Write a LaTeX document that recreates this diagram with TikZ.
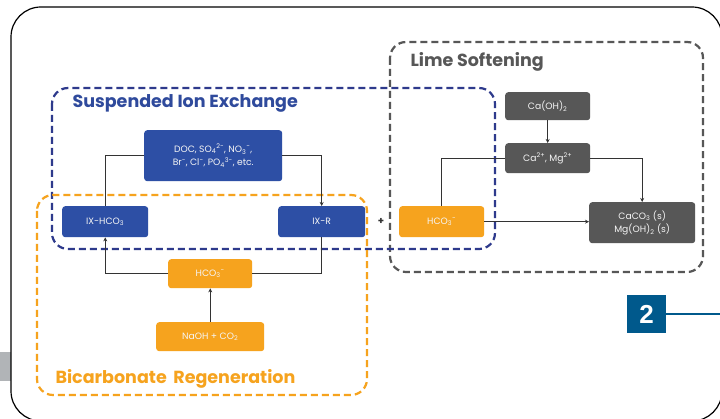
\documentclass[tikz,border=0pt]{standalone}
\usepackage{fontspec}
\setmainfont{Poppins}
\newfontfamily\numfont{Liberation Sans}
\usetikzlibrary{arrows.meta}
\definecolor{ixblue}{HTML}{2D4FA5}
\definecolor{ixdash}{HTML}{2E3A8C}
\definecolor{ixtitle}{HTML}{2F4A9C}
\definecolor{orng}{HTML}{F6A31E}
\definecolor{lgray}{HTML}{575757}
\definecolor{tabgray}{HTML}{B1B4B7}
\definecolor{frameblue}{HTML}{00598C}
\newcommand{\sbs}[1]{\textsubscript{#1}}
\newcommand{\sps}[1]{\textsuperscript{#1}}
\begin{document}
\begin{tikzpicture}[x=1pt,y=-1pt,
  box/.style={rounded corners=3pt, text=white!92!gray, align=center, inner sep=0pt,
    font=\fontsize{9.2}{13.5}\selectfont, anchor=north west},
  bluebox/.style={box, fill=ixblue},
  orbox/.style={box, fill=orng},
  grbox/.style={box, fill=lgray},
  conn/.style={draw=black!80, line width=0.8pt},
  arr/.style={conn, -{Stealth[length=4pt,width=4pt]}},
  dashbox/.style={line width=2.2pt, rounded corners=16pt, dash pattern=on 7pt off 4pt},
  title/.style={anchor=west, font=\bfseries\fontsize{17.5}{20}\selectfont}
]
\useasboundingbox (0,0) rectangle (720,419);
\fill[white] (0,0) rectangle (720,419);
% side tab and outer frame
\fill[tabgray] (0,352) rectangle (11,381);
\draw[black, line width=1.2pt, rounded corners=30pt] (11,7) rectangle (722,421);

% dashed groups
\draw[dashbox, lgray] (390,42) rectangle (703,272);
\draw[dashbox, ixdash] (52,88) rectangle (495,249);
\draw[dashbox, orng] (37,195) rectangle (367,395);

% titles
\node[title, text=lgray] (tls) at (407,62) {Lime Softening};
\node[title, text=ixtitle] (tix) at (69,103) {Suspended Ion Exchange};
\node[title, text=orng] (tbr) at (52,379) {Bicarbonate\, Regeneration};

% nodes
\node[bluebox, minimum width=138pt, minimum height=51pt] (doc) at (144,130)
  {DOC, SO\sbs{4}\sps{2−}, NO\sbs{3}\sps{−},\\Br\sps{−}, Cl\sps{−}, PO\sbs{4}\sps{3−}, etc.};
\node[bluebox, minimum width=86pt, minimum height=31pt] (ixhco) at (62,206) {IX-HCO\sbs{3}};
\node[bluebox, minimum width=87pt, minimum height=31pt] (ixr) at (278,206) {IX-R};
\node[orbox, minimum width=84pt, minimum height=29pt] (hco) at (168,259) {HCO\sbs{3}\sps{−}};
\node[orbox, minimum width=108pt, minimum height=29pt] (naoh) at (156,322) {NaOH + CO\sbs{2}};
\node[orbox, minimum width=85pt, minimum height=31pt] (hcob) at (399,206) {HCO\sbs{3}\sps{−}};
\node[grbox, minimum width=85pt, minimum height=28pt] (caoh) at (505,92) {Ca(OH)\sbs{2}};
\node[grbox, minimum width=85pt, minimum height=30pt] (camg) at (505,143) {Ca\sps{2+}, Mg\sps{2+}};
\node[grbox, minimum width=106pt, minimum height=41pt] (caco) at (589,202) {CaCO\sbs{3} (s)\\Mg(OH)\sbs{2} (s)};
\node[font=\bfseries\fontsize{10}{10}\selectfont, text=black!80] (plus) at (381,221) {+};

% connectors
\draw[conn] (doc.west) -| (ixhco.north);
\draw[arr] (doc.east) -| (ixr.north);
\draw[conn] (ixr.south) |- (hco.east);
\draw[arr] (hco.west) -| (ixhco.south);
\draw[arr] (naoh.north) -- (hco.south);
\draw[arr] (caoh.south) -- (camg.north);
\draw[conn] (camg.west) -| (hcob.north);
\draw[arr] (camg.east) -| (caco.north);
\draw[arr] (hcob.east) -- (hcob.east -| caco.west);

% callout 2
\node[fill=frameblue, minimum width=39pt, minimum height=38pt, inner sep=0pt, text=white,
  font=\numfont\bfseries\fontsize{26}{26}\selectfont] (two) at (646.5,314) {2};
\coordinate (twoend) at (722,314);
\draw[frameblue, line width=1.5pt] (two.east) -- (twoend);
\end{tikzpicture}
\end{document}
